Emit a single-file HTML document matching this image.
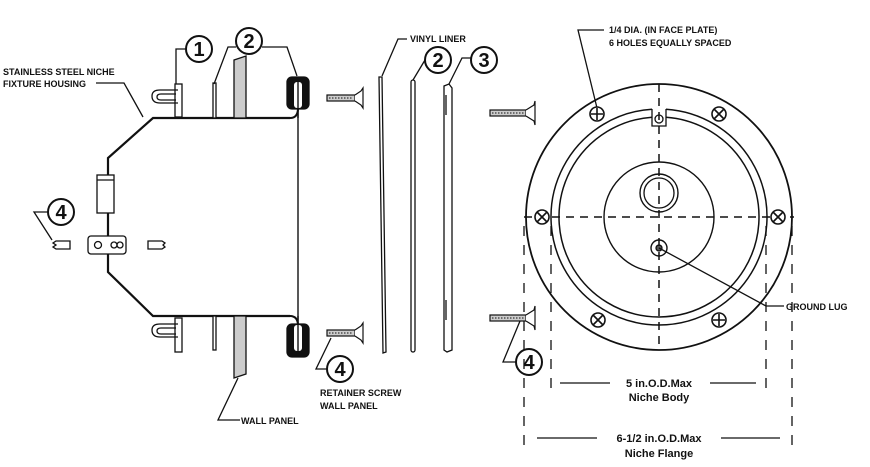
<!DOCTYPE html>
<html><head><meta charset="utf-8"><style>
html,body{margin:0;padding:0;background:#fff;}
svg{display:block;}
text{font-family:"Liberation Sans",Arial,sans-serif;font-weight:bold;fill:#111;}
</style></head><body>
<svg width="870" height="467" viewBox="0 0 870 467" xmlns="http://www.w3.org/2000/svg">
<defs>
<g id="scr"><rect x="0" y="-3" width="28" height="6" fill="#ccc" stroke="#111" stroke-width="1.2"/><path d="M2 0h24" stroke="#111" stroke-dasharray="1.5 1.5"/><path d="M28 -3 L34 -7 L36 -10 L36 10 L34 7 L28 3" fill="#fff" stroke="#111" stroke-width="1.2"/></g>
<g id="scrL"><rect x="0" y="-3" width="36" height="6" fill="#ccc" stroke="#111" stroke-width="1.2"/><path d="M2 0h33" stroke="#111" stroke-dasharray="1.5 1.5"/><path d="M36 -3 L44 -8 L45 -12 L45 12 L44 8 L36 3" fill="#fff" stroke="#111" stroke-width="1.2"/></g>
<g id="hole"><circle r="7" fill="#fff" stroke="#111" stroke-width="1.6"/><path d="M-6 0h12M0 -6v12" stroke="#111" stroke-width="1.6"/></g>
<g id="holeX"><circle r="7" fill="#fff" stroke="#111" stroke-width="1.6"/><path d="M-4.5 -4.5l9 9M-4.5 4.5l9 -9" stroke="#111" stroke-width="1.6"/></g>
</defs>
<g fill="none" stroke="#111" stroke-width="1.3">
<path d="M290 118 H153 L108 158 V272 L153 316 H290" stroke-width="2.2"/>
<path d="M290 118 Q298 118 298 108 V78 M290 316 Q298 316 298 326 V356" stroke-width="2"/>
<line x1="298" y1="108" x2="298" y2="326" stroke-width="1.4"/>
<rect x="287" y="77" width="22" height="32" rx="5" fill="#111"/>
<rect x="294" y="82" width="8" height="26" rx="3" fill="#fff" stroke="none"/>
<rect x="287" y="324" width="22" height="33" rx="5" fill="#111"/>
<rect x="294" y="325" width="8" height="26" rx="3" fill="#fff" stroke="none"/>
<line x1="298" y1="82" x2="298" y2="118" stroke-width="1.4"/>
<line x1="298" y1="316" x2="298" y2="351" stroke-width="1.4"/>
<rect x="175" y="84" width="7" height="33" fill="#fff"/>
<path d="M178 90 H160 Q152 90 152 96 Q152 103 160 103 H178 M176 94 H161 Q157 94 157 97 Q157 100 161 100 H176"/>
<rect x="175" y="318" width="7" height="34" fill="#fff"/>
<path d="M178 324 H160 Q152 324 152 330 Q152 337 160 337 H178 M176 328 H161 Q157 328 157 331 Q157 334 161 334 H176"/>
<rect x="213" y="83" width="3" height="35" fill="#fff"/>
<rect x="213" y="316" width="3" height="34" fill="#fff"/>
<path d="M234 60 L246 56 V118 H234 Z" fill="#ccc"/>
<path d="M234 316 H246 V374 L234 378 Z" fill="#ccc"/>
<rect x="97" y="175" width="17" height="38" fill="#fff"/>
<line x1="97" y1="180" x2="114" y2="180"/>
<rect x="88" y="236" width="38" height="18" rx="3" fill="#fff"/>
<circle cx="98" cy="245" r="3.5"/><circle cx="114" cy="245" r="3"/><circle cx="120" cy="245" r="3"/>
<path d="M56 241 H70 V249 H56 L53 247 L56 245 L53 243 Z"/>
<path d="M148 241 H162 L165 243 L163 245 L165 247 L162 249 H148 Z"/>
<circle cx="199" cy="49" r="13" stroke-width="2" fill="#fff"/>
<path d="M186 49 H176 V84"/>
<circle cx="249" cy="41" r="13" stroke-width="2" fill="#fff"/>
<path d="M236 47 H228 L214 84 M262 47 H287 L297 76"/>
<path d="M96 83 H124 L143 117"/>
<circle cx="61" cy="212" r="13" stroke-width="2" fill="#fff"/>
<path d="M48 212 H34 L52 240"/>
<path d="M238 378 L218 420 H240"/>
<path d="M379 77 L382 77 L386 352 L383 353 Z" fill="#fff"/>
<path d="M407 39 H398 L382 76"/>
<rect x="411" y="80" width="4" height="272" rx="2" fill="#fff"/>
<circle cx="438" cy="60" r="13" stroke-width="2" fill="#fff"/>
<path d="M425 60 L413 80"/>
<path d="M444 86 L449 84 L452 88 V350 L447 352 L444 350 Z" fill="#fff"/>
<path d="M446 95 V115 M446 300 V320"/>
<circle cx="484" cy="60" r="13" stroke-width="2" fill="#fff"/>
<path d="M471 58 H462 L449 84"/>
<circle cx="340" cy="369" r="13" stroke-width="2" fill="#fff"/>
<path d="M327 369 H316 L331 338"/>
<circle cx="529" cy="362" r="13" stroke-width="2" fill="#fff"/>
<path d="M516 362 H503 L520 321"/>
<circle cx="659" cy="217" r="133" stroke-width="1.8"/>
<path d="M652 109.2 A108 108 0 1 0 666 109.2" stroke-width="1.5"/>
<path d="M652 117.2 A100 100 0 1 0 666 117.2" stroke-width="1.5"/>
<path d="M652 109 V126 H666 V109"/>
<circle cx="659" cy="119" r="4"/>
<circle cx="659" cy="217" r="55" stroke-width="1.4"/>
<circle cx="659" cy="193" r="19" stroke-width="1.4"/>
<circle cx="659" cy="193" r="15"/>
<circle cx="659" cy="248" r="8" stroke-width="1.4"/>
<circle cx="659" cy="248" r="3" fill="#555"/>
<path d="M659 248 L766 306 H784"/>
<path d="M604 30 H578 L597 108"/>
<g stroke-dasharray="8 6" stroke-width="1.5">
<line x1="659" y1="84" x2="659" y2="350"/>
<line x1="524" y1="217" x2="794" y2="217"/>
</g>
<g stroke-dasharray="10 9" stroke-width="1.3">
<line x1="524" y1="226" x2="524" y2="445"/>
<line x1="551" y1="226" x2="551" y2="388"/>
<line x1="766" y1="226" x2="766" y2="388"/>
<line x1="792" y1="226" x2="792" y2="445"/>
</g>
<path d="M560 383 H610 M710 383 H756 M537 438 H597 M721 438 H780"/>
</g>
<use href="#hole" x="597" y="114"/><use href="#holeX" x="719" y="114"/>
<use href="#holeX" x="542" y="217"/><use href="#holeX" x="778" y="217"/>
<use href="#holeX" x="598" y="320"/><use href="#hole" x="719" y="320"/>
<use href="#scr" x="327" y="98"/><use href="#scr" x="327" y="333"/>
<use href="#scrL" x="490" y="113"/><use href="#scrL" x="490" y="318"/>
<g font-size="20" text-anchor="middle">
<text x="199" y="56">1</text><text x="249" y="48">2</text><text x="61" y="219">4</text>
<text x="438" y="67">2</text><text x="484" y="67">3</text><text x="340" y="376">4</text><text x="529" y="369">4</text>
</g>
<g font-size="9">
<text x="3" y="75">STAINLESS STEEL NICHE</text><text x="3" y="87">FIXTURE HOUSING</text>
<text x="410" y="42">VINYL LINER</text>
<text x="320" y="396">RETAINER SCREW</text><text x="320" y="409">WALL PANEL</text>
<text x="241" y="424">WALL PANEL</text>
<text x="609" y="33">1/4 DIA. (IN FACE PLATE)</text><text x="609" y="46">6 HOLES  EQUALLY SPACED</text>
<text x="786" y="310">GROUND LUG</text>
</g>
<g font-size="11" text-anchor="middle">
<text x="659" y="387">5 in.O.D.Max</text><text x="659" y="401">Niche Body</text>
<text x="659" y="442">6-1/2 in.O.D.Max</text><text x="659" y="457">Niche Flange</text>
</g>
</svg>
</body></html>
